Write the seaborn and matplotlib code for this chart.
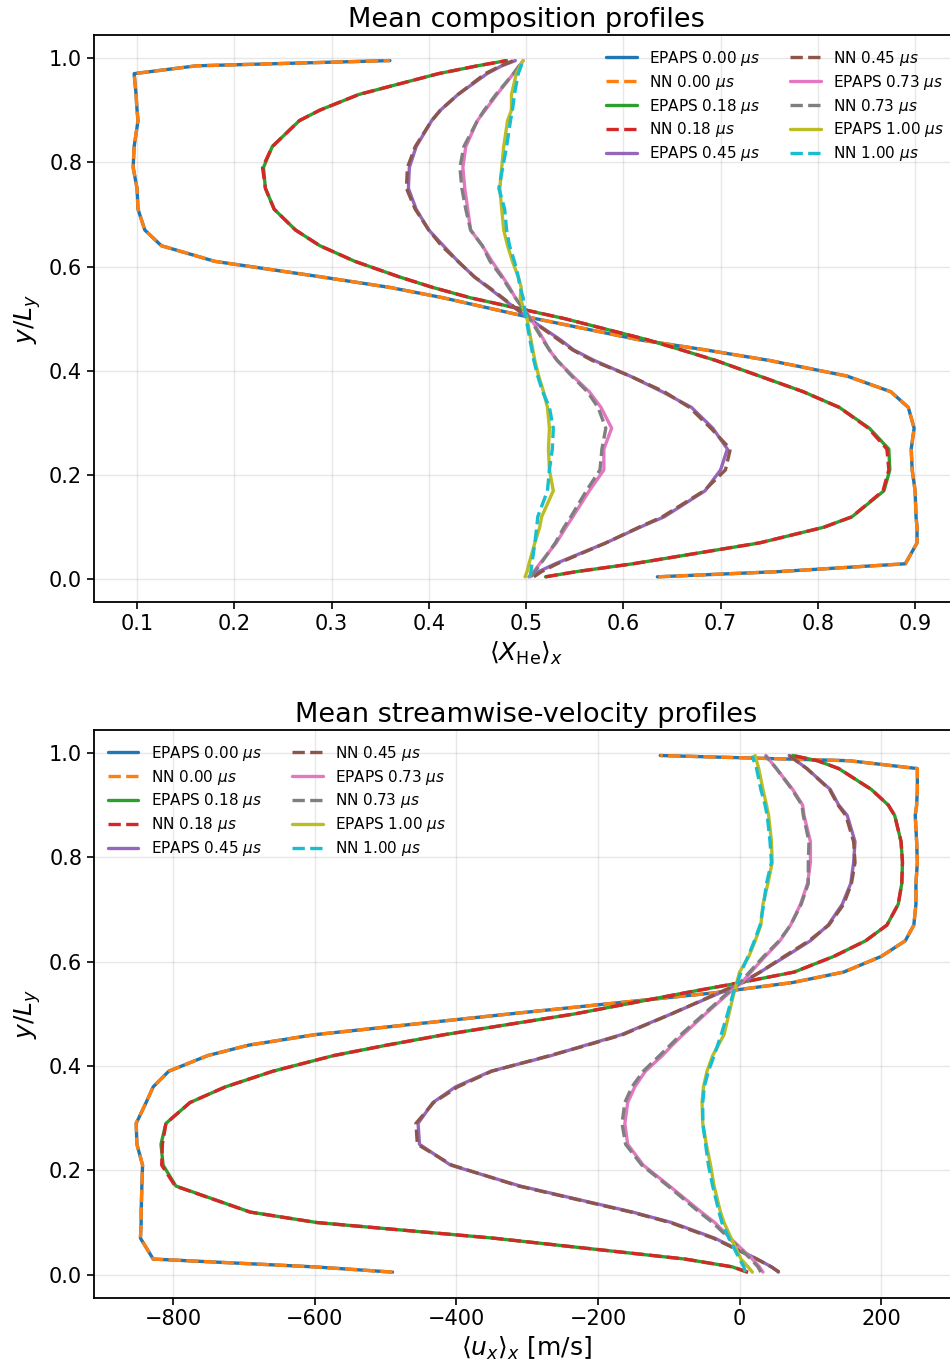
import matplotlib
matplotlib.use("Agg")
import matplotlib.pyplot as plt
import seaborn as sns
import pandas as pd

# --- Data ---
y_pos = [0.005, 0.015, 0.03, 0.07, 0.10, 0.12, 0.17, 0.21, 0.25, 0.29,
         0.33, 0.36, 0.39, 0.42, 0.44, 0.46, 0.50, 0.54, 0.56, 0.58,
         0.61, 0.64, 0.67, 0.71, 0.75, 0.79, 0.83, 0.88, 0.90, 0.93,
         0.97, 0.985, 0.995]

times = ["0.00", "0.18", "0.45", "0.73", "1.00"]

# mean He mole fraction <X_He>_x
xhe_epaps_000 = [0.635, 0.76, 0.89, 0.902, 0.902, 0.901, 0.900, 0.897, 0.896, 0.899,
                 0.893, 0.875, 0.83, 0.75, 0.685, 0.615, 0.51, 0.415, 0.36, 0.29,
                 0.18, 0.125, 0.108, 0.101, 0.100, 0.096, 0.097, 0.101, 0.10, 0.099,
                 0.097, 0.161, 0.36]
xhe_nn_000 = [0.636, 0.76, 0.89, 0.902, 0.902, 0.901, 0.900, 0.897, 0.896, 0.899,
              0.893, 0.875, 0.83, 0.75, 0.685, 0.615, 0.51, 0.415, 0.36, 0.29,
              0.18, 0.125, 0.108, 0.101, 0.100, 0.096, 0.097, 0.101, 0.10, 0.099,
              0.097, 0.161, 0.36]
xhe_epaps_018 = [0.52, 0.552, 0.61, 0.74, 0.806, 0.835, 0.868, 0.874, 0.873, 0.853,
                 0.822, 0.785, 0.74, 0.695, 0.66, 0.624, 0.54, 0.443, 0.404, 0.37,
                 0.324, 0.288, 0.263, 0.241, 0.232, 0.23, 0.239, 0.267, 0.288, 0.328,
                 0.41, 0.45, 0.48]
xhe_nn_018 = [0.52, 0.552, 0.61, 0.74, 0.806, 0.835, 0.867, 0.873, 0.871, 0.852,
              0.822, 0.785, 0.74, 0.695, 0.66, 0.624, 0.54, 0.443, 0.404, 0.37,
              0.324, 0.288, 0.263, 0.241, 0.232, 0.229, 0.239, 0.267, 0.288, 0.328,
              0.41, 0.45, 0.48]
xhe_epaps_045 = [0.503, 0.513, 0.53, 0.582, 0.617, 0.642, 0.684, 0.70, 0.707, 0.692,
                 0.67, 0.64, 0.607, 0.57, 0.549, 0.535, 0.503, 0.475, 0.461, 0.447,
                 0.43, 0.415, 0.40, 0.387, 0.379, 0.38, 0.387, 0.403, 0.412, 0.43,
                 0.46, 0.475, 0.489]
xhe_nn_045 = [0.508, 0.516, 0.532, 0.582, 0.616, 0.640, 0.683, 0.705, 0.71, 0.69,
              0.668, 0.642, 0.607, 0.568, 0.548, 0.533, 0.503, 0.476, 0.462, 0.447,
              0.43, 0.413, 0.40, 0.386, 0.377, 0.378, 0.386, 0.403, 0.412, 0.43,
              0.458, 0.474, 0.487]
xhe_epaps_073 = [0.504, 0.508, 0.514, 0.531, 0.541, 0.548, 0.565, 0.58, 0.58, 0.588,
                 0.577, 0.565, 0.548, 0.532, 0.524, 0.518, 0.505, 0.489, 0.483, 0.476,
                 0.465, 0.455, 0.443, 0.44, 0.437, 0.435, 0.438, 0.45, 0.458, 0.47,
                 0.487, 0.493, 0.497]
xhe_nn_073 = [0.505, 0.509, 0.515, 0.530, 0.539, 0.546, 0.562, 0.576, 0.578, 0.582,
              0.574, 0.563, 0.547, 0.532, 0.524, 0.517, 0.504, 0.489, 0.482, 0.475,
              0.463, 0.455, 0.443, 0.438, 0.434, 0.432, 0.436, 0.45, 0.457, 0.469,
              0.487, 0.493, 0.497]
xhe_epaps_100 = [0.499, 0.501, 0.503, 0.509, 0.514, 0.516, 0.528, 0.524, 0.523, 0.524,
                 0.522, 0.518, 0.513, 0.509, 0.507, 0.505, 0.501, 0.494, 0.495, 0.492,
                 0.486, 0.481, 0.477, 0.475, 0.473, 0.475, 0.477, 0.481, 0.485, 0.485,
                 0.49, 0.494, 0.497]
xhe_nn_100 = [0.504, 0.505, 0.506, 0.509, 0.511, 0.512, 0.522, 0.524, 0.527, 0.528,
              0.524, 0.517, 0.512, 0.508, 0.506, 0.504, 0.50, 0.497, 0.494, 0.492,
              0.488, 0.483, 0.48, 0.478, 0.472, 0.476, 0.48, 0.484, 0.486, 0.488,
              0.492, 0.495, 0.497]

# mean streamwise velocity <u_x>_x [m/s]
ux_epaps_000 = [-490, -600, -828, -846, -845, -845, -844, -843, -851, -852,
                -838, -828, -806, -751, -693, -600, -323, -37, 75, 147,
                200, 234, 246, 249, 249, 251, 250, 248, 250, 251,
                251, 155, -112]
ux_nn_000 = [-490, -600, -828, -846, -845, -845, -844, -843, -851, -852,
             -838, -828, -806, -751, -693, -600, -323, -37, 75, 147,
             200, 234, 246, 249, 249, 251, 250, 248, 250, 251,
             251, 155, -112]
ux_epaps_018 = [10, -10, -77, -347, -597, -691, -796, -814, -817, -810,
                -776, -726, -659, -573, -498, -417, -232, -78, 2, 77,
                133, 178, 208, 224, 229, 230, 228, 219, 210, 186,
                140, 110, 75]
ux_nn_018 = [12, -10, -77, -347, -597, -691, -797, -816, -815, -810,
             -776, -726, -659, -573, -498, -417, -232, -78, 2, 77,
             133, 178, 208, 224, 229, 230, 228, 219, 210, 186,
             140, 110, 75]
ux_epaps_045 = [55, 45, 25, -35, -96, -151, -310, -408, -452, -454,
                -433, -401, -351, -266, -217, -167, -96, -28, 5, 29,
                65, 100, 125, 145, 157, 161, 163, 152, 140, 128,
                95, 80, 70]
ux_nn_045 = [56, 45, 24, -37, -98, -153, -312, -406, -455, -457,
             -432, -398, -350, -268, -215, -165, -96, -30, 3, 29,
             63, 98, 126, 147, 158, 163, 161, 150, 139, 127,
             95, 80, 70]
ux_epaps_073 = [33, 28, 18, -13, -35, -54, -99, -136, -158, -162,
                -158, -148, -133, -109, -95, -80, -48, -15, 3, 16,
                36, 57, 72, 86, 96, 100, 100, 91, 89, 75,
                52, 43, 37]
ux_nn_073 = [30, 26, 16, -15, -38, -57, -101, -138, -161, -166,
             -162, -152, -136, -113, -98, -83, -50, -17, 1, 14,
             34, 56, 72, 87, 97, 97, 98, 90, 88, 74,
             52, 43, 36]
ux_epaps_100 = [18, 12, 2, -12, -22, -27, -36, -41, -47, -52,
                -53, -51, -46, -38, -30, -22, -15, -8, -4, 0,
                13, 22, 30, 33, 40, 46, 45, 41, 38, 33,
                27, 24, 22]
ux_nn_100 = [8, 6, 0, -15, -25, -29, -38, -44, -48, -52,
             -52, -50, -44, -36, -31, -26, -17, -9, -3, 2,
             12, 21, 29, 34, 38, 45, 43, 39, 36, 30,
             24, 20, 18]

xhe_epaps = [xhe_epaps_000, xhe_epaps_018, xhe_epaps_045, xhe_epaps_073, xhe_epaps_100]
xhe_nn = [xhe_nn_000, xhe_nn_018, xhe_nn_045, xhe_nn_073, xhe_nn_100]
ux_epaps = [ux_epaps_000, ux_epaps_018, ux_epaps_045, ux_epaps_073, ux_epaps_100]
ux_nn = [ux_nn_000, ux_nn_018, ux_nn_045, ux_nn_073, ux_nn_100]

# --- Plotting ---
sns.set_style("ticks")
plt.rcParams['font.family'] = ['DejaVu Sans']
plt.rcParams.update({
    'axes.linewidth': 1.3,
    'axes.edgecolor': 'black',
    'text.color': 'black',
    'axes.labelcolor': 'black',
    'xtick.color': 'black',
    'ytick.color': 'black',
})

fig = plt.figure(figsize=(9.5, 13.69), dpi=100)
ax_top = fig.add_axes([0.099, 0.560, 0.9095, 0.4144])
ax_bot = fig.add_axes([0.099, 0.0521, 0.9095, 0.4147])

palette = sns.color_palette("tab10", 10)
lw = 2.4


def draw_panel(ax, epaps_list, nn_list):
    k = 0
    for t, ep, nn in zip(times, epaps_list, nn_list):
        df_ep = pd.DataFrame({"val": ep, "y": y_pos})
        df_nn = pd.DataFrame({"val": nn, "y": y_pos})
        sns.lineplot(data=df_ep, x="val", y="y", sort=False, estimator=None,
                     color=palette[k], linewidth=lw, linestyle="-",
                     label=f"EPAPS {t} $\\mu s$", ax=ax)
        sns.lineplot(data=df_nn, x="val", y="y", sort=False, estimator=None,
                     color=palette[k + 1], linewidth=lw, linestyle="--",
                     label=f"NN {t} $\\mu s$", ax=ax)
        k += 2
    ax.grid(True, color="#b0b0b0", alpha=0.3, linewidth=1.0)
    ax.set_ylim(-0.044, 1.044)
    ax.set_yticks([0.0, 0.2, 0.4, 0.6, 0.8, 1.0])
    ax.tick_params(labelsize=15, width=1.2, length=5)
    ax.set_ylabel("$y/L_y$", fontsize=18)


draw_panel(ax_top, xhe_epaps, xhe_nn)
ax_top.set_xlim(0.0558, 0.9442)
ax_top.set_xlabel(r"$\langle X_{\mathrm{He}}\rangle_x$", fontsize=18)
ax_top.set_title("Mean composition profiles", fontsize=19.5)
ax_top.legend(loc="upper right", ncol=2, frameon=False, fontsize=11,
              labelspacing=0.32)

draw_panel(ax_bot, ux_epaps, ux_nn)
ax_bot.set_xlim(-911.5, 308.5)
ax_bot.set_xlabel(r"$\langle u_x\rangle_x$ [m/s]", fontsize=18)
ax_bot.set_title("Mean streamwise-velocity profiles", fontsize=19.5)
ax_bot.legend(loc="upper left", ncol=2, frameon=False, fontsize=11,
              labelspacing=0.32)

fig.savefig("out.png", dpi=100)
